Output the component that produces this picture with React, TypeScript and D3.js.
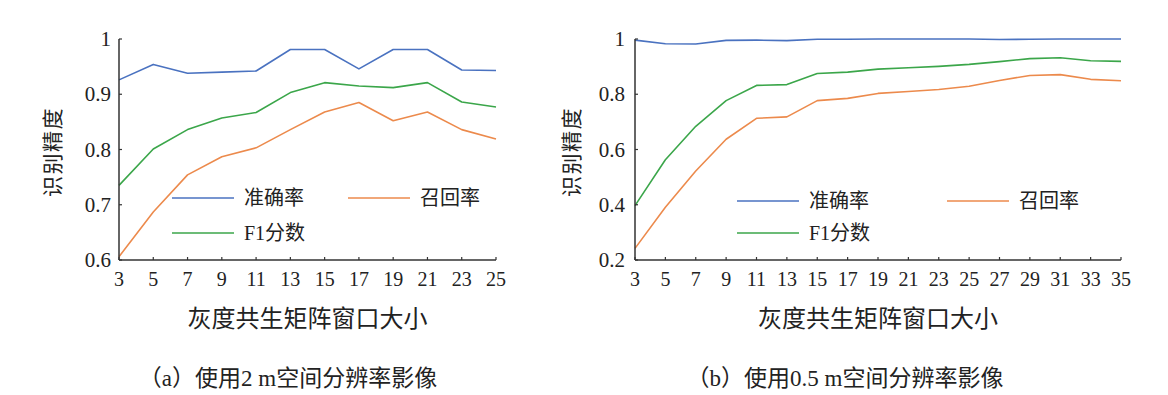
import React from "react";
import * as d3 from "d3";

// ---------- data ----------
const xA = [3, 5, 7, 9, 11, 13, 15, 17, 19, 21, 23, 25];
const precisionA = [0.926, 0.954, 0.938, 0.940, 0.942, 0.981, 0.981, 0.946, 0.981, 0.981, 0.944, 0.943];
const recallA = [0.606, 0.687, 0.754, 0.787, 0.803, 0.836, 0.868, 0.885, 0.852, 0.868, 0.836, 0.819];
const f1A = [0.735, 0.801, 0.836, 0.857, 0.867, 0.903, 0.921, 0.915, 0.912, 0.921, 0.886, 0.877];
const yTicksA = [0.6, 0.7, 0.8, 0.9, 1];
const yTickLabelsA = ["0.6", "0.7", "0.8", "0.9", "1"];

const xB = [3, 5, 7, 9, 11, 13, 15, 17, 19, 21, 23, 25, 27, 29, 31, 33, 35];
const precisionB = [0.996, 0.983, 0.982, 0.995, 0.996, 0.994, 0.999, 0.999, 1.0, 1.0, 1.0, 1.0, 0.998, 0.999, 1.0, 1.0, 1.0];
const recallB = [0.242, 0.391, 0.522, 0.637, 0.713, 0.718, 0.777, 0.785, 0.803, 0.810, 0.817, 0.829, 0.850, 0.868, 0.871, 0.854, 0.849];
const f1B = [0.397, 0.563, 0.684, 0.777, 0.832, 0.835, 0.875, 0.880, 0.891, 0.896, 0.901, 0.908, 0.918, 0.929, 0.932, 0.921, 0.919];
const yTicksB = [0.2, 0.4, 0.6, 0.8, 1];
const yTickLabelsB = ["0.2", "0.4", "0.6", "0.8", "1"];

const seriesNames = ["准确率", "召回率", "F1分数"];
const xAxisTitle = "灰度共生矩阵窗口大小";
const yAxisTitle = "识别精度";
const captionA = "（a）使用2 m空间分辨率影像";
const captionB = "（b）使用0.5 m空间分辨率影像";

// ---------- style ----------
const COLORS = ["#4a72c0", "#ec8a4c", "#3ba64a"];
const LATIN = '"Liberation Serif"';
const SERIF = '"Liberation Serif", "Noto Sans CJK SC", serif';
const AXIS = "#333";

type PanelProps = {
  xs: number[];
  series: number[][];
  xDomain: [number, number];
  xRange: [number, number];
  yDomain: [number, number];
  yTicks: number[];
  yTickLabels: string[];
  yLabelGap: number;
  yTitleX: number;
  legend: { x1: number; x2: number; y1: number; y2: number };
  caption: string;
  captionX: number;
};

function Panel(p: PanelProps) {
  const x = d3.scaleLinear().domain(p.xDomain).range(p.xRange);
  const y = d3.scaleLinear().domain(p.yDomain).range([260, 39]);
  const line = d3
    .line<[number, number]>()
    .x((d) => x(d[0]))
    .y((d) => y(d[1]));
  const x0 = p.xRange[0];
  const x1 = p.xRange[1];
  const yb = y(p.yDomain[0]);
  const yt = y(p.yDomain[1]);
  const legendItems = [
    { lx: p.legend.x1, ly: p.legend.y1 },
    { lx: p.legend.x2, ly: p.legend.y1 },
    { lx: p.legend.x1, ly: p.legend.y2 },
  ];
  return (
    <g>
      {p.series.map((s, i) => (
        <path
          key={i}
          d={line(p.xs.map((v, j) => [v, s[j]] as [number, number])) || ""}
          fill="none"
          stroke={COLORS[i]}
          strokeWidth={1.6}
          strokeLinejoin="round"
        />
      ))}
      {/* axes */}
      <line x1={x0} x2={x0} y1={yt} y2={yb} stroke={AXIS} strokeWidth={1.5} />
      <line x1={x0} x2={x1} y1={yb} y2={yb} stroke={AXIS} strokeWidth={1.5} />
      {p.xs.map((v) => (
        <g key={v}>
          <line x1={x(v)} x2={x(v)} y1={yb} y2={yb - 3} stroke={AXIS} strokeWidth={1.2} />
          <text x={x(v)} y={286} textAnchor="middle" fontFamily={LATIN} fontSize={20} fill="#222">
            {v}
          </text>
        </g>
      ))}
      {p.yTicks.map((v, i) => (
        <g key={v}>
          <line x1={x0} x2={x0 + 3} y1={y(v)} y2={y(v)} stroke={AXIS} strokeWidth={1.2} />
          <text x={x0 - p.yLabelGap} y={y(v) + 7} textAnchor="end" fontFamily={LATIN} fontSize={21} fill="#222">
            {p.yTickLabels[i]}
          </text>
        </g>
      ))}
      {/* legend */}
      {legendItems.map((it, i) => (
        <g key={i}>
          <line x1={it.lx} x2={it.lx + 62} y1={it.ly} y2={it.ly} stroke={COLORS[i]} strokeWidth={1.6} />
          <text x={it.lx + 72} y={it.ly + 7} fontFamily={SERIF} fontSize={20} fill="#222">
            {seriesNames[i]}
          </text>
        </g>
      ))}
      {/* titles */}
      <text
        transform={`translate(${p.yTitleX},152) rotate(-90)`}
        textAnchor="middle"
        dominantBaseline="central"
        fontFamily={SERIF}
        fontSize={21}
        letterSpacing={1.5}
        fill="#222"
      >
        {yAxisTitle}
      </text>
      <text x={(x0 + x1) / 2} y={327} textAnchor="middle" fontFamily={SERIF} fontSize={24} fill="#222">
        {xAxisTitle}
      </text>
      <text x={p.captionX} y={386} textAnchor="middle" fontFamily={SERIF} fontSize={23} fill="#222">
        {p.caption}
      </text>
    </g>
  );
}

export default function App() {
  return (
    <div style={{ position: "absolute", left: 0, top: 0 }}>
      <svg width={1168} height={395} style={{ display: "block", background: "#fff" }}>
        <Panel
          xs={xA}
          series={[precisionA, recallA, f1A]}
          xDomain={[3, 25]}
          xRange={[119, 496]}
          yDomain={[0.6, 1]}
          yTicks={yTicksA}
          yTickLabels={yTickLabelsA}
          yLabelGap={8}
          yTitleX={53}
          legend={{ x1: 172, x2: 348, y1: 198, y2: 233 }}
          caption={captionA}
          captionX={288}
        />
        <Panel
          xs={xB}
          series={[precisionB, recallB, f1B]}
          xDomain={[3, 35]}
          xRange={[635, 1121]}
          yDomain={[0.2, 1]}
          yTicks={yTicksB}
          yTickLabels={yTickLabelsB}
          yLabelGap={10}
          yTitleX={572}
          legend={{ x1: 737, x2: 947, y1: 201, y2: 233 }}
          caption={captionB}
          captionX={845}
        />
      </svg>
    </div>
  );
}
